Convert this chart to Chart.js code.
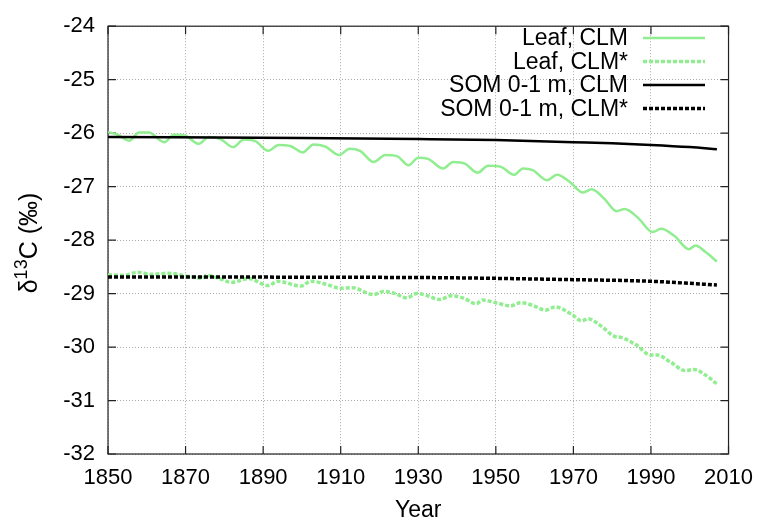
<!DOCTYPE html>
<html>
<head>
<meta charset="utf-8">
<script src="https://cdn.jsdelivr.net/npm/chart.js@4.4.0/dist/chart.umd.min.js"></script>
<style>
  html, body { margin: 0; padding: 0; background: #fff; }
</style>
</head>
<body>
<canvas id="myChart" width="764" height="525"></canvas>
<script>
// values
const leafYears = [1850, 1852.5, 1855.5, 1858, 1860.5, 1864.5, 1867, 1870, 1873.4, 1876, 1879, 1882.3,
  1885, 1888, 1891.3, 1894, 1897, 1900.2, 1903, 1906, 1909.6, 1912.3, 1915, 1918.5, 1921.5, 1924.5,
  1927.5, 1930, 1932.5, 1936.4, 1939, 1942, 1945.3, 1948, 1951.3, 1954.7, 1957, 1959.5, 1963.2, 1965.8,
  1969, 1972.5, 1974.7, 1978, 1981.1, 1983.2, 1986.6, 1990.4, 1992.6, 1996, 1999.8, 2001.5, 2004, 2007];
const leafClm = [-25.98, -26.03, -26.14, -25.99, -25.99, -26.17, -26.03, -26.05, -26.20, -26.07, -26.11, -26.26,
  -26.12, -26.15, -26.33, -26.22, -26.24, -26.36, -26.21, -26.25, -26.41, -26.29, -26.33, -26.54, -26.41, -26.43,
  -26.60, -26.46, -26.48, -26.66, -26.54, -26.57, -26.74, -26.61, -26.63, -26.78, -26.66, -26.69, -26.88, -26.78,
  -26.91, -27.11, -27.05, -27.23, -27.46, -27.42, -27.58, -27.85, -27.79, -27.92, -28.17, -28.10, -28.22, -28.40];

const leafStarYears = [1850, 1854, 1857.7, 1861, 1865.7, 1870, 1874.3, 1875.5, 1878, 1881.9, 1886.2, 1891.3,
  1893.8, 1899.8, 1902.3, 1906, 1910, 1913, 1918.5, 1921, 1924, 1927, 1929.6, 1932, 1935.5, 1938.5, 1941.5,
  1944.9, 1946.6, 1950, 1953.8, 1956.4, 1959.5, 1962.8, 1965.3, 1969.6, 1972.1, 1973.8, 1977, 1980.6, 1982.3,
  1986, 1990, 1991.7, 1995, 1998.9, 2001.1, 2004, 2007];
const leafClmStar = [-28.65, -28.66, -28.60, -28.64, -28.62, -28.67, -28.71, -28.66, -28.70, -28.79, -28.72, -28.85,
  -28.77, -28.86, -28.77, -28.82, -28.90, -28.89, -29.02, -28.96, -29.00, -29.08, -29.00, -29.03, -29.11, -29.04, -29.08,
  -29.19, -29.12, -29.17, -29.23, -29.17, -29.22, -29.31, -29.25, -29.39, -29.51, -29.47, -29.60, -29.80, -29.82,
  -29.95, -30.15, -30.15, -30.28, -30.44, -30.42, -30.52, -30.69];

const somYears = [1850, 1900, 1930, 1950, 1970, 1980, 1990, 2000, 2007];
const somClm = [-26.07, -26.09, -26.11, -26.13, -26.17, -26.19, -26.22, -26.26, -26.30];
const somStarYears = [1850, 1930, 1970, 1990, 2007];
const somClmStar = [-28.69, -28.70, -28.74, -28.77, -28.84];

const seriesNames = ['Leaf, CLM', 'Leaf, CLM*', 'SOM 0-1 m, CLM', 'SOM 0-1 m, CLM*'];
const yearTicks = [1850, 1870, 1890, 1910, 1930, 1950, 1970, 1990, 2010];
const deltaTicks = [-24, -25, -26, -27, -28, -29, -30, -31, -32];

const green = '#90ee90';
const FONT = '"Liberation Sans", Arial, sans-serif';

function pts(xs, ys) {
  return xs.map((x, i) => ({ x: x, y: ys[i] }));
}

// gnuplot-like frame with inward tick marks, y title and legend
const framePlugin = {
  id: 'frame',
  beforeDatasetsDraw(chart) {
    const { ctx, chartArea: a, scales } = chart;
    ctx.save();
    ctx.strokeStyle = '#222';
    ctx.lineWidth = 1.2;
    ctx.strokeRect(a.left, a.top, a.right - a.left, a.bottom - a.top);
    ctx.beginPath();
    yearTicks.forEach(v => {
      const x = scales.x.getPixelForValue(v);
      ctx.moveTo(x, a.bottom); ctx.lineTo(x, a.bottom - 8);
      ctx.moveTo(x, a.top); ctx.lineTo(x, a.top + 8);
    });
    deltaTicks.forEach(v => {
      const y = scales.y.getPixelForValue(v);
      ctx.moveTo(a.left, y); ctx.lineTo(a.left + 8, y);
      ctx.moveTo(a.right, y); ctx.lineTo(a.right - 8, y);
    });
    ctx.stroke();
    ctx.restore();
  },
  afterDraw(chart) {
    const ctx = chart.ctx;
    // y axis title with superscript
    ctx.save();
    ctx.translate(37, 243);
    ctx.rotate(-Math.PI / 2);
    ctx.fillStyle = '#000';
    ctx.textBaseline = 'alphabetic';
    ctx.textAlign = 'left';
    const big = '25px ' + FONT, small = '18px ' + FONT;
    ctx.font = big;
    const w1 = ctx.measureText('\u03b4').width;
    const w3 = ctx.measureText('C (\u2030)').width;
    ctx.font = small;
    const w2 = ctx.measureText('13').width;
    let x = -(w1 + w2 + w3) / 2;
    ctx.font = big;
    ctx.fillText('\u03b4', x, 0);
    x += w1;
    ctx.font = small;
    ctx.fillText('13', x, -10);
    x += w2;
    ctx.font = big;
    ctx.fillText('C (\u2030)', x, 0);
    ctx.restore();

    // legend, text right-aligned with sample on the right
    ctx.save();
    ctx.font = '23px ' + FONT;
    ctx.textAlign = 'right';
    ctx.textBaseline = 'middle';
    chart.data.datasets.forEach(ds => {
      const row = seriesNames.indexOf(ds.label);
      const y = 38 + row * 23.5;
      ctx.fillStyle = '#000';
      ctx.fillText(ds.label, 628, y + 1);
      ctx.beginPath();
      ctx.strokeStyle = ds.borderColor;
      ctx.lineWidth = ds.borderWidth;
      ctx.setLineDash(ds.borderDash || []);
      ctx.moveTo(643, y);
      ctx.lineTo(705, y);
      ctx.stroke();
    });
    ctx.restore();
  }
};

const lineDefaults = { pointRadius: 0, fill: false, cubicInterpolationMode: 'monotone', borderCapStyle: 'butt' };

const config = {
  type: 'line',
  data: {
    datasets: [
      Object.assign({ label: seriesNames[0], data: pts(leafYears, leafClm), borderColor: green, borderWidth: 2.5, order: 3 }, lineDefaults),
      Object.assign({ label: seriesNames[1], data: pts(leafStarYears, leafClmStar), borderColor: green, borderWidth: 3.5, borderDash: [4, 2], order: 2 }, lineDefaults),
      Object.assign({ label: seriesNames[2], data: pts(somYears, somClm), borderColor: '#000', borderWidth: 2.5, order: 1 }, lineDefaults),
      Object.assign({ label: seriesNames[3], data: pts(somStarYears, somClmStar), borderColor: '#000', borderWidth: 3.5, borderDash: [4, 2], order: 0 }, lineDefaults)
    ]
  },
  options: {
    responsive: false,
    animation: false,
    devicePixelRatio: 1,
    layout: { padding: { left: 0, right: 29, top: 20, bottom: 0 } },
    plugins: { legend: { display: false }, tooltip: { enabled: false } },
    scales: {
      x: {
        type: 'linear',
        min: 1850, max: 2010,
        afterFit(scale) { scale.height = 71; },
        afterBuildTicks(scale) { scale.ticks = yearTicks.map(v => ({ value: v })); },
        ticks: { color: '#000', font: { family: FONT, size: 22 }, padding: 11, maxRotation: 0, callback: v => String(v) },
        grid: { color: '#aaa', lineWidth: 1, drawTicks: false },
        border: { display: false, dash: [1, 2] },
        title: { display: true, text: 'Year', color: '#000', font: { family: FONT, size: 23 }, padding: { top: 0, bottom: 1 } }
      },
      y: {
        min: -32, max: -24,
        afterFit(scale) { scale.width = 108; },
        afterBuildTicks(scale) { scale.ticks = deltaTicks.map(v => ({ value: v })); },
        ticks: { color: '#000', font: { family: FONT, size: 22 }, padding: 13, callback: v => String(v) },
        grid: { color: '#aaa', lineWidth: 1, drawTicks: false },
        border: { display: false, dash: [1, 2] }
      }
    }
  },
  plugins: [framePlugin]
};

var myChart = new Chart(document.getElementById('myChart'), config);
</script>
</body>
</html>
